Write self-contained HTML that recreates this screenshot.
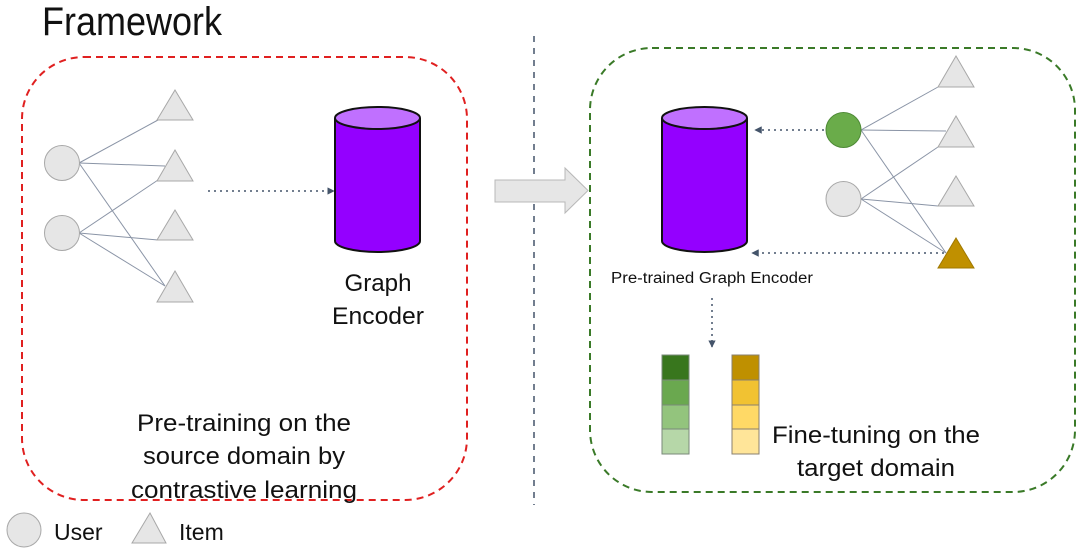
<!DOCTYPE html>
<html><head><meta charset="utf-8"><style>
html,body{margin:0;padding:0;background:#fff;}
svg{display:block;}
text{font-family:"Liberation Sans",sans-serif;fill:#111;}
</style></head><body>
<svg width="1080" height="551" viewBox="0 0 1080 551" xmlns="http://www.w3.org/2000/svg">
<defs>
<marker id="ah" viewBox="0 0 10 10" refX="9" refY="5" markerWidth="5" markerHeight="5" orient="auto"><path d="M0,0 L10,5 L0,10 z" fill="#44546a"/></marker>
</defs>
<text x="42" y="35" font-size="40" textLength="180" lengthAdjust="spacingAndGlyphs">Framework</text>
<rect x="22" y="57" width="445" height="443" rx="62" fill="none" stroke="#e02020" stroke-width="2" stroke-dasharray="7,5"/>
<rect x="590" y="48" width="485" height="444" rx="62" fill="none" stroke="#3a7a28" stroke-width="2" stroke-dasharray="7,5"/>
<line x1="534" y1="36" x2="534" y2="505" stroke="#44546a" stroke-width="1.5" stroke-dasharray="6,6"/>
<path d="M495,180 L565,180 L565,168 L588,190.5 L565,213 L565,202 L495,202 z" fill="#e6e6e6" stroke="#b8b8b8" stroke-width="1"/>
<g stroke="#8a94a6" stroke-width="1">
<line x1="79" y1="163" x2="158" y2="120"/>
<line x1="79" y1="163" x2="165" y2="166"/>
<line x1="79" y1="163" x2="165" y2="286"/>
<line x1="79" y1="233" x2="158" y2="180"/>
<line x1="79" y1="233" x2="158" y2="240"/>
<line x1="79" y1="233" x2="165" y2="286"/>
</g>
<g fill="#e6e6e6" stroke="#a8a8a8" stroke-width="1">
<circle cx="62" cy="163" r="17.5"/>
<circle cx="62" cy="233" r="17.5"/>
<path d="M175,90 L193,120 L157,120 z"/>
<path d="M175,150 L193,181 L157,181 z"/>
<path d="M175,210 L193,240 L157,240 z"/>
<path d="M175,271 L193,302 L157,302 z"/>
</g>
<line x1="208" y1="191" x2="334" y2="191" stroke="#44546a" stroke-width="1.5" stroke-dasharray="2,4" marker-end="url(#ah)"/>
<path d="M335,118 L335,241 A42.5,11 0 0 0 420,241 L420,118" fill="#9400ff" stroke="#111" stroke-width="2"/>
<ellipse cx="377.5" cy="118" rx="42.5" ry="11" fill="#c070ff" stroke="#111" stroke-width="2"/>
<text x="378" y="291" font-size="24" text-anchor="middle" textLength="67" lengthAdjust="spacingAndGlyphs">Graph</text>
<text x="378" y="324" font-size="24" text-anchor="middle" textLength="92" lengthAdjust="spacingAndGlyphs">Encoder</text>
<text x="244" y="431" font-size="24" text-anchor="middle" textLength="214" lengthAdjust="spacingAndGlyphs">Pre-training on the</text>
<text x="244" y="464" font-size="24" text-anchor="middle" textLength="202" lengthAdjust="spacingAndGlyphs">source domain by</text>
<text x="244" y="498" font-size="24" text-anchor="middle" textLength="226" lengthAdjust="spacingAndGlyphs">contrastive learning</text>
<path d="M662,118 L662,241 A42.5,11 0 0 0 747,241 L747,118" fill="#9400ff" stroke="#111" stroke-width="2"/>
<ellipse cx="704.5" cy="118" rx="42.5" ry="11" fill="#c070ff" stroke="#111" stroke-width="2"/>
<text x="611" y="283" font-size="15.5" textLength="202" lengthAdjust="spacingAndGlyphs">Pre-trained Graph Encoder</text>
<g stroke="#8a94a6" stroke-width="1">
<line x1="861" y1="130" x2="938" y2="87"/>
<line x1="861" y1="130" x2="946" y2="131"/>
<line x1="861" y1="130" x2="946" y2="253"/>
<line x1="861" y1="199" x2="938" y2="147"/>
<line x1="861" y1="199" x2="938" y2="206"/>
<line x1="861" y1="199" x2="946" y2="253"/>
</g>
<circle cx="843.5" cy="130" r="17.5" fill="#6aac4a" stroke="#4e8a36" stroke-width="1"/>
<circle cx="843.5" cy="199" r="17.5" fill="#e6e6e6" stroke="#a8a8a8" stroke-width="1"/>
<g fill="#e6e6e6" stroke="#a8a8a8" stroke-width="1">
<path d="M956,56 L974,87 L938,87 z"/>
<path d="M956,116 L974,147 L938,147 z"/>
<path d="M956,176 L974,206 L938,206 z"/>
</g>
<path d="M956,238 L974,268 L938,268 z" fill="#c09000" stroke="#a07800" stroke-width="1"/>
<line x1="824" y1="130" x2="755" y2="130" stroke="#44546a" stroke-width="1.5" stroke-dasharray="2,4" marker-end="url(#ah)"/>
<line x1="944" y1="253" x2="752" y2="253" stroke="#44546a" stroke-width="1.5" stroke-dasharray="2,4" marker-end="url(#ah)"/>
<line x1="712" y1="298" x2="712" y2="347" stroke="#44546a" stroke-width="1.5" stroke-dasharray="2,4" marker-end="url(#ah)"/>
<g stroke="#7a8a7a" stroke-width="1">
<rect x="662" y="355" width="27" height="25" fill="#38761d"/>
<rect x="662" y="380" width="27" height="25" fill="#6aa84f"/>
<rect x="662" y="405" width="27" height="24" fill="#93c47d"/>
<rect x="662" y="429" width="27" height="25" fill="#b6d7a8"/>
</g>
<g stroke="#8a8070" stroke-width="1">
<rect x="732" y="355" width="27" height="25" fill="#bf9000"/>
<rect x="732" y="380" width="27" height="25" fill="#f1c232"/>
<rect x="732" y="405" width="27" height="24" fill="#ffd966"/>
<rect x="732" y="429" width="27" height="25" fill="#ffe599"/>
</g>
<text x="876" y="443" font-size="24" text-anchor="middle" textLength="208" lengthAdjust="spacingAndGlyphs">Fine-tuning on the</text>
<text x="876" y="476" font-size="24" text-anchor="middle" textLength="158" lengthAdjust="spacingAndGlyphs">target domain</text>
<circle cx="24" cy="530" r="17" fill="#e6e6e6" stroke="#a8a8a8" stroke-width="1"/>
<text x="54" y="540" font-size="23">User</text>
<path d="M150,513 L166,543 L132,543 z" fill="#e6e6e6" stroke="#a8a8a8" stroke-width="1"/>
<text x="179" y="540" font-size="23">Item</text>
</svg>
</body></html>
